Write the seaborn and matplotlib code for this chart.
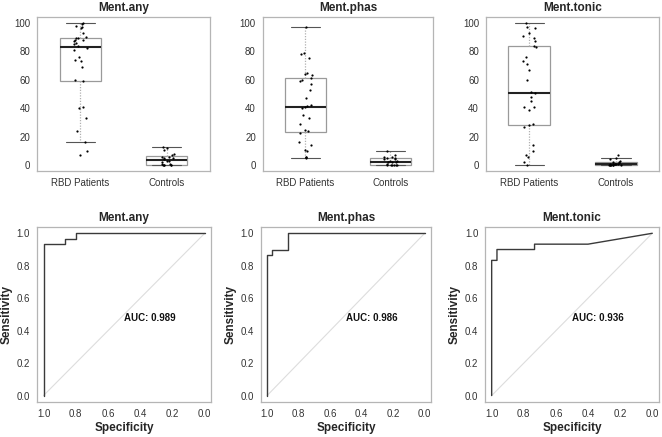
import numpy as np
import pandas as pd
import matplotlib
matplotlib.use("Agg")
import matplotlib.pyplot as plt
import seaborn as sns

# ---- data ----
groups = ["RBD Patients", "Controls"]
titles = ["Ment.any", "Ment.phas", "Ment.tonic"]

any_rbd = [7, 10, 16, 24, 33, 40, 41, 59, 60, 69, 73, 74, 76, 81, 82,
           84, 85, 86, 87, 88, 88, 89, 89, 90, 93, 96, 97, 98, 99, 100]
any_ctl = [0, 0, 0, 0, 0, 0.5, 1, 2, 3, 3, 4, 5, 5, 6, 6, 7, 8, 11, 12, 13]

phas_rbd = [5, 5.5, 6, 10, 11, 14, 16, 22.7, 24, 25, 29, 33, 35, 40, 40.5,
            41.5, 42, 47, 53, 57, 59, 60, 61.5, 63, 64, 65, 75, 78, 79, 97]
phas_ctl = [0, 0, 0, 0, 0, 0, 1, 2, 2, 2, 3, 3, 4, 4, 5, 5, 6, 6, 7, 10]

tonic_rbd = [0, 2, 6, 7, 10, 14, 27, 28, 29, 39, 41, 41, 45, 48, 50.5,
             51.5, 60, 67, 71, 73, 76, 83, 83.5, 87, 89, 91, 93, 96, 97, 100]
tonic_ctl = [0, 0, 0, 0, 0, 0, 0, 0.5, 0.5, 1, 1, 1, 1, 1.5, 2, 2, 3, 4, 5, 7]

# ROC curves (specificity, sensitivity)
any_spec = [1.0, 1.0, 0.867, 0.867, 0.8, 0.8, 0.0]
any_sens = [0.0, 0.933, 0.933, 0.967, 0.967, 1.0, 1.0]
phas_spec = [1.0, 1.0, 0.967, 0.967, 0.867, 0.867, 0.0]
phas_sens = [0.0, 0.867, 0.867, 0.9, 0.9, 1.0, 1.0]
tonic_spec = [1.0, 1.0, 0.967, 0.967, 0.733, 0.733, 0.4, 0.0]
tonic_sens = [0.0, 0.833, 0.833, 0.9, 0.9, 0.933, 0.933, 1.0]
auc_labels = ["AUC: 0.989", "AUC: 0.986", "AUC: 0.936"]

box_data = [(any_rbd, any_ctl), (phas_rbd, phas_ctl), (tonic_rbd, tonic_ctl)]
roc_data = [(any_spec, any_sens), (phas_spec, phas_sens), (tonic_spec, tonic_sens)]

sns.set_theme(style="white")
plt.rcParams["font.family"] = ["Liberation Sans Narrow", "Liberation Sans", "DejaVu Sans"]

fig = plt.figure(figsize=(6.62, 4.37), dpi=100)

top_pos = [[0.056, 0.609, 0.261, 0.352],
           [0.397, 0.609, 0.257, 0.352],
           [0.734, 0.609, 0.262, 0.352]]
bot_pos = [[0.056, 0.080, 0.263, 0.401],
           [0.394, 0.080, 0.257, 0.401],
           [0.733, 0.080, 0.262, 0.401]]

frame_col = "#b5b5b5"
tick_kw = dict(length=3, width=0.8, color="#999999", labelcolor="#333333",
               labelsize=7, pad=2)


def style_frame(ax):
    for s in ax.spines.values():
        s.set_color(frame_col)
        s.set_linewidth(0.9)
    ax.tick_params(**tick_kw)


for i in range(3):
    rbd, ctl = box_data[i]
    df = pd.DataFrame({
        "group": [groups[0]] * len(rbd) + [groups[1]] * len(ctl),
        "value": rbd + ctl,
    })
    ax = fig.add_axes(top_pos[i])
    sns.boxplot(data=df, x="group", y="value", order=groups, ax=ax,
                width=0.48, showfliers=False, whis=1.5, color="white",
                linecolor="#9a9a9a", linewidth=0.9, capwidths=0.34,
                medianprops=dict(color="#222222", linewidth=1.5),
                whiskerprops=dict(color="#b0b0b0", linestyle=(0, (1, 1.2)), linewidth=0.9),
                capprops=dict(color="#555555", linewidth=0.8))
    sns.stripplot(data=df, x="group", y="value", order=groups, ax=ax,
                  color="black", size=1.6, jitter=0.08, linewidth=0)
    ax.set_xlim(-0.5, 1.5)
    ax.set_ylim(-4, 104)
    ax.set_yticks([0, 20, 40, 60, 80, 100])
    ax.set_xlabel("")
    ax.set_ylabel("")
    ax.set_title(titles[i], fontsize=8.5, fontweight="bold", pad=4)
    style_frame(ax)

for i in range(3):
    spec, sens = roc_data[i]
    ax = fig.add_axes(bot_pos[i])
    ax.plot([1, 0], [0, 1], color="#dddddd", linewidth=0.8)
    sns.lineplot(x=spec, y=sens, sort=False, estimator=None, ax=ax,
                 color="#3a3a3a", linewidth=1.0)
    ax.set_xlim(1.04, -0.04)
    ax.set_ylim(-0.04, 1.04)
    ax.set_xticks([1.0, 0.8, 0.6, 0.4, 0.2, 0.0])
    ax.set_yticks([0.0, 0.2, 0.4, 0.6, 0.8, 1.0])
    ax.set_xticklabels(["1.0", "0.8", "0.6", "0.4", "0.2", "0.0"])
    ax.set_yticklabels(["0.0", "0.2", "0.4", "0.6", "0.8", "1.0"])
    ax.text(0.5, 0.48, auc_labels[i], fontsize=7, fontweight="bold",
            ha="left", va="center", color="#111111")
    ax.set_xlabel("Specificity", fontsize=8.5, fontweight="bold", labelpad=2)
    ax.set_ylabel("Sensitivity", fontsize=8.5, fontweight="bold", labelpad=3)
    ax.set_title(titles[i], fontsize=8.5, fontweight="bold", pad=4)
    style_frame(ax)

fig.savefig("out.png", dpi=100)
